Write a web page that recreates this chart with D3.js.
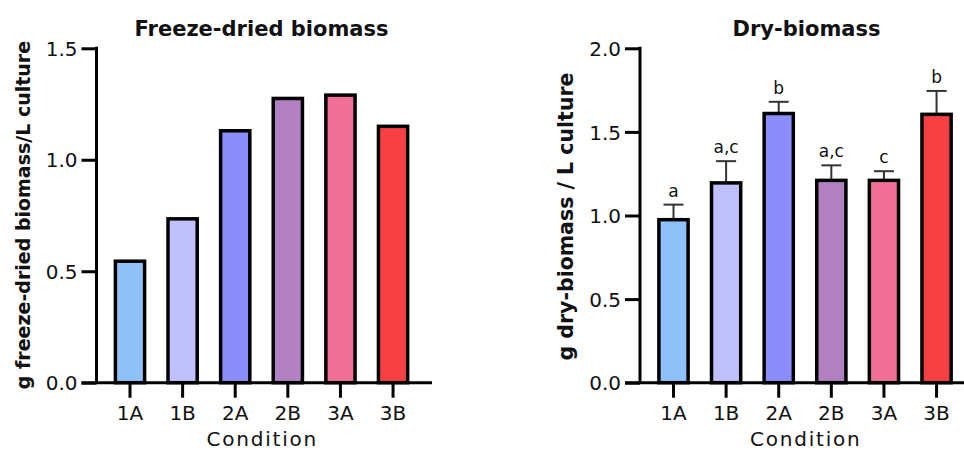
<!DOCTYPE html>
<html>
<head>
<meta charset="utf-8">
<script src="https://cdn.jsdelivr.net/npm/d3@7"></script>
<style>
  body { margin:0; background:#fff; }
  svg text { font-family:"DejaVu Sans", sans-serif; fill:#111; }
</style>
</head>
<body>
<div id="chart"></div>
<script>
const conditions  = ['1A','1B','2A','2B','3A','3B'];
const barColors   = ['#90c0f8','#c0c0fc','#8c8cfc','#b080c0','#f07098','#f84044'];

const freezeDried = [0.545, 0.735, 1.13, 1.275, 1.29, 1.15];
const freezeTicks = [0, 0.5, 1.0, 1.5];

const dryBiomass  = [0.975, 1.195, 1.61, 1.21, 1.21, 1.605];
const dryErr      = [0.09, 0.13, 0.07, 0.09, 0.055, 0.14];
const dryLetters  = ['a','a,c','b','a,c','c','b'];
const dryTicks    = [0, 0.5, 1.0, 1.5, 2.0];

const svg = d3.select('#chart').append('svg')
    .attr('width', 964)
    .attr('height', 450);

/**
 * One bar panel: axes, bars, optional error bars and letters.
 */
function drawPanel(o) {
  const top = 48.3, bottom = 382.7, plotW = 335.5;

  const x = d3.scaleBand()
    .domain(conditions)
    .range([o.left, o.left + plotW])
    .paddingInner(0.445)
    .paddingOuter(0.411)
    .align(0.437);

  const y = d3.scaleLinear()
    .domain([0, o.max])
    .range([bottom, top]);

  const g = svg.append('g');

  // y axis
  const ya = g.append('g')
      .attr('transform', `translate(${o.left},0)`)
      .call(d3.axisLeft(y).tickValues(o.ticks).tickFormat(d3.format('.1f'))
              .tickSize(15).tickSizeOuter(0));
  ya.select('.domain').attr('stroke', '#000').attr('stroke-width', 3)
      .attr('d', `M0,${top - 1.5}V${bottom}`);
  ya.selectAll('.tick line').attr('stroke', '#000').attr('stroke-width', 3);
  ya.selectAll('.tick text').attr('x', -19).attr('font-size', 20).attr('dy', '0.36em');

  // x axis
  const xa = g.append('g')
      .attr('transform', `translate(0,${bottom})`)
      .call(d3.axisBottom(x).tickSize(15).tickSizeOuter(0));
  xa.select('.domain').attr('stroke', '#000').attr('stroke-width', 3)
      .attr('d', `M${o.left - 15},0H${o.left + plotW}`);
  xa.selectAll('.tick line').attr('stroke', '#000').attr('stroke-width', 3);
  xa.selectAll('.tick text').attr('y', 23).attr('font-size', 20).attr('dy', '0.71em');

  // bars
  const data = conditions.map((c, i) => ({ c, v:o.values[i], e:o.err ? o.err[i] : 0,
                                           l:o.letters ? o.letters[i] : '', col:barColors[i] }));

  if (o.err) {
    const eb = g.append('g').selectAll('g').data(data).join('g')
        .attr('stroke', '#333').attr('stroke-width', 2);
    eb.append('line')
        .attr('x1', d => x(d.c) + x.bandwidth()/2)
        .attr('x2', d => x(d.c) + x.bandwidth()/2)
        .attr('y1', d => y(d.v))
        .attr('y2', d => y(d.v + d.e));
    eb.append('line')
        .attr('x1', d => x(d.c) + x.bandwidth()/2 - 10)
        .attr('x2', d => x(d.c) + x.bandwidth()/2 + 10)
        .attr('y1', d => y(d.v + d.e))
        .attr('y2', d => y(d.v + d.e));
  }

  g.append('g').selectAll('rect').data(data).join('rect')
      .attr('x', d => x(d.c))
      .attr('y', d => y(d.v))
      .attr('width', x.bandwidth())
      .attr('height', d => y(0) - y(d.v))
      .attr('fill', d => d.col)
      .attr('stroke', '#000')
      .attr('stroke-width', 3.5);

  if (o.letters) {
    g.append('g').selectAll('text').data(data).join('text')
        .attr('x', d => x(d.c) + x.bandwidth()/2)
        .attr('y', d => y(d.v + d.e) - 8)
        .attr('text-anchor', 'middle')
        .attr('font-size', 17)
        .attr('fill', '#222')
        .text(d => d.l);
  }

  // titles
  g.append('text')
      .attr('x', o.titleX).attr('y', 36)
      .attr('text-anchor', 'middle')
      .attr('font-size', 21).attr('font-weight', 'bold')
      .text(o.title);

  g.append('text')
      .attr('x', o.left + plotW/2 - 2).attr('y', 446)
      .attr('text-anchor', 'middle')
      .attr('font-size', 20).attr('letter-spacing', 1.8)
      .text('Condition');

  g.append('text')
      .attr('transform', `translate(${o.ylabX},${o.ylabY}) rotate(-90)`)
      .attr('text-anchor', 'middle')
      .attr('font-size', o.ylabSize).attr('font-weight', 'bold')
      .text(o.ylab);
}

drawPanel({ left:96.5, max:1.5, ticks:freezeTicks, values:freezeDried,
            title:'Freeze-dried biomass', titleX:261.5,
            ylab:'g freeze-dried biomass/L culture', ylabX:30, ylabY:215, ylabSize:19 });

drawPanel({ left:640, max:2.0, ticks:dryTicks, values:dryBiomass,
            err:dryErr, letters:dryLetters,
            title:'Dry-biomass', titleX:806.5,
            ylab:'g dry-biomass / L culture', ylabX:573, ylabY:216.5, ylabSize:20.5 });
</script>
</body>
</html>
